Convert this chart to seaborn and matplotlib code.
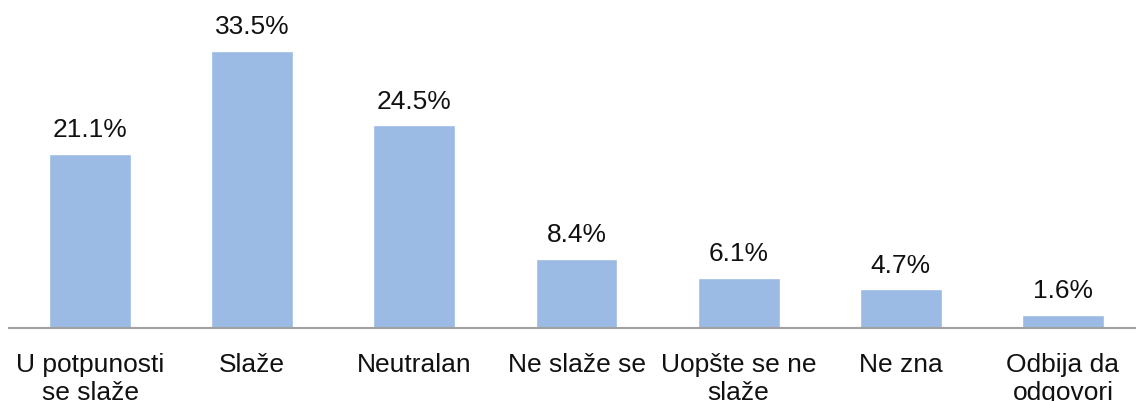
import matplotlib
matplotlib.use("Agg")
import matplotlib.pyplot as plt
import seaborn as sns
import pandas as pd

# Data
categories = [
    "U potpunosti\nse slaže",
    "Slaže",
    "Neutralan",
    "Ne slaže se",
    "Uopšte se ne\nslaže",
    "Ne zna",
    "Odbija da\nodgovori",
]
shares = [21.1, 33.5, 24.5, 8.4, 6.1, 4.7, 1.6]

df = pd.DataFrame({"category": categories, "share": shares})

sns.set_style("white")
plt.rcParams["font.family"] = ["Liberation Sans", "DejaVu Sans"]

fig = plt.figure(figsize=(11.36, 4.02), dpi=100)
ax = fig.add_axes([9 / 1136, 73 / 402, 1135 / 1136, 290 / 402])

sns.barplot(df, x="category", y="share", color="#9BBAE4", width=0.505, ax=ax, saturation=1)

ax.bar_label(ax.containers[0], labels=[f"{v:.1f}%" for v in shares],
             padding=9, fontsize=19, color="#111111")

ax.set_ylim(0, 35.07)
ax.set_xlim(-0.5, 6.5)
ax.set_yticks([])
ax.set_xlabel("")
ax.set_ylabel("")
for side in ["top", "right", "left"]:
    ax.spines[side].set_visible(False)
ax.spines["bottom"].set_color("#a0a0a0")
ax.spines["bottom"].set_linewidth(1.5)
ax.tick_params(axis="x", length=0, pad=17, labelsize=19, labelcolor="#111111")
for t in ax.get_xticklabels():
    t.set_linespacing(1.25)

fig.savefig("out.png", dpi=100)
